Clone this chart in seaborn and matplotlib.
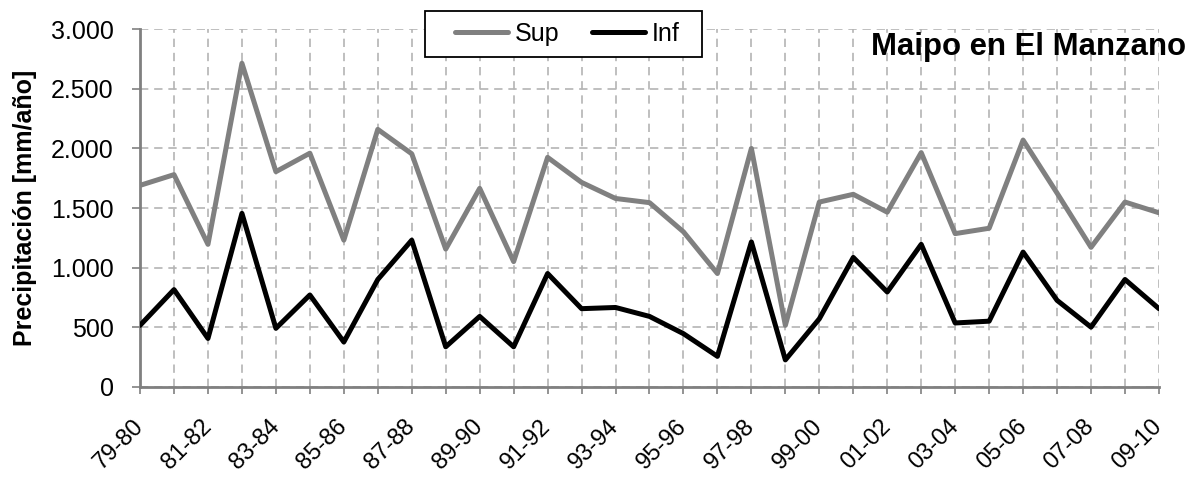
import numpy as np
import pandas as pd
import matplotlib
matplotlib.use("Agg")
import matplotlib.pyplot as plt
import matplotlib.ticker as mticker
from matplotlib.lines import Line2D
from matplotlib.patches import Rectangle
import seaborn as sns

# hydrological years 79-80 .. 09-10
years = [f"{y % 100:02d}-{(y + 1) % 100:02d}" for y in range(1979, 2010)]

sup = [1690, 1780, 1195, 2715, 1805, 1960, 1230, 2160, 1955, 1155,
       1665, 1050, 1925, 1715, 1580, 1545, 1300, 950, 2000, 515,
       1550, 1615, 1465, 1965, 1285, 1330, 2070, 1625, 1170, 1550, 1460]
inf = [515, 815, 405, 1455, 490, 770, 375, 900, 1230, 335,
       590, 335, 950, 655, 665, 590, 445, 255, 1215, 225,
       570, 1085, 795, 1195, 535, 550, 1130, 725, 500, 900, 655]

df = pd.DataFrame({"idx": np.arange(len(years)), "Sup": sup, "Inf": inf})
long = df.melt(id_vars="idx", var_name="serie", value_name="pp")

sns.set_style("white")
plt.rcParams["font.family"] = ["Liberation Sans", "DejaVu Sans"]
plt.rcParams["text.color"] = "black"
plt.rcParams["axes.labelcolor"] = "black"
plt.rcParams["xtick.labelcolor"] = "black"
plt.rcParams["ytick.labelcolor"] = "black"

fig = plt.figure(figsize=(11.99, 4.79), dpi=100)
ax = fig.add_axes([0.1168, 0.1927, 0.8498, 0.7461])

colors = {"Sup": "#808080", "Inf": "#000000"}
sns.lineplot(data=long, x="idx", y="pp", hue="serie", palette=colors,
             linewidth=3.6, ax=ax, legend=False, zorder=3)

ax.set_xlim(0, len(years) - 1)
ax.set_ylim(0, 3000)
ax.set_xticks(np.arange(len(years)))
ax.set_xticklabels([y if i % 2 == 0 else "" for i, y in enumerate(years)],
                   rotation=45, ha="right", va="center", rotation_mode="anchor",
                   fontsize=17)
ax.set_yticks(np.arange(0, 3001, 500))
ax.yaxis.set_major_formatter(mticker.FuncFormatter(
    lambda v, p: f"{v:,.0f}".replace(",", ".")))
ax.tick_params(axis="y", labelsize=18, length=6, color="#808080", width=1.2, pad=13,
               labelcolor="black")
ax.tick_params(axis="x", length=5, color="#808080", width=1.2, pad=21, direction="out",
               labelcolor="black")
ax.tick_params(bottom=True, left=True)

ax.grid(True, color="#b4b4b4", linestyle=(0, (5, 3.5)), linewidth=1.2, zorder=0)
for s in ["top", "right"]:
    ax.spines[s].set_visible(False)
for s in ["left", "bottom"]:
    ax.spines[s].set_color("#808080")
    ax.spines[s].set_linewidth(2)

ax.set_xlabel("")
ax.set_ylabel("Precipitación [mm/año]", fontsize=18, fontweight="bold", labelpad=10,
              color="black")

# legend box
fig.patches.append(Rectangle((425 / 1199, 1 - 57 / 479), 277 / 1199, 46 / 479,
                             transform=fig.transFigure, facecolor="white",
                             edgecolor="black", linewidth=1.3, zorder=4))
handles = [Line2D([], [], color=colors[k], lw=3.6) for k in ["Sup", "Inf"]]
leg = fig.legend(handles, ["Sup", "Inf"], loc="center", ncol=2,
                 bbox_to_anchor=(567.5 / 1199, 1 - 34 / 479),
                 fontsize=18, frameon=False, handlelength=2.1,
                 columnspacing=1.3, handletextpad=0.3, borderpad=0.2,
                 labelcolor="black")
leg.set_zorder(6)

fig.text(0.989, 1 - 55 / 479, "Maipo en El Manzano", ha="right", va="baseline",
         fontsize=22.4, fontweight="bold", color="black")

fig.savefig("out.png", dpi=100)
